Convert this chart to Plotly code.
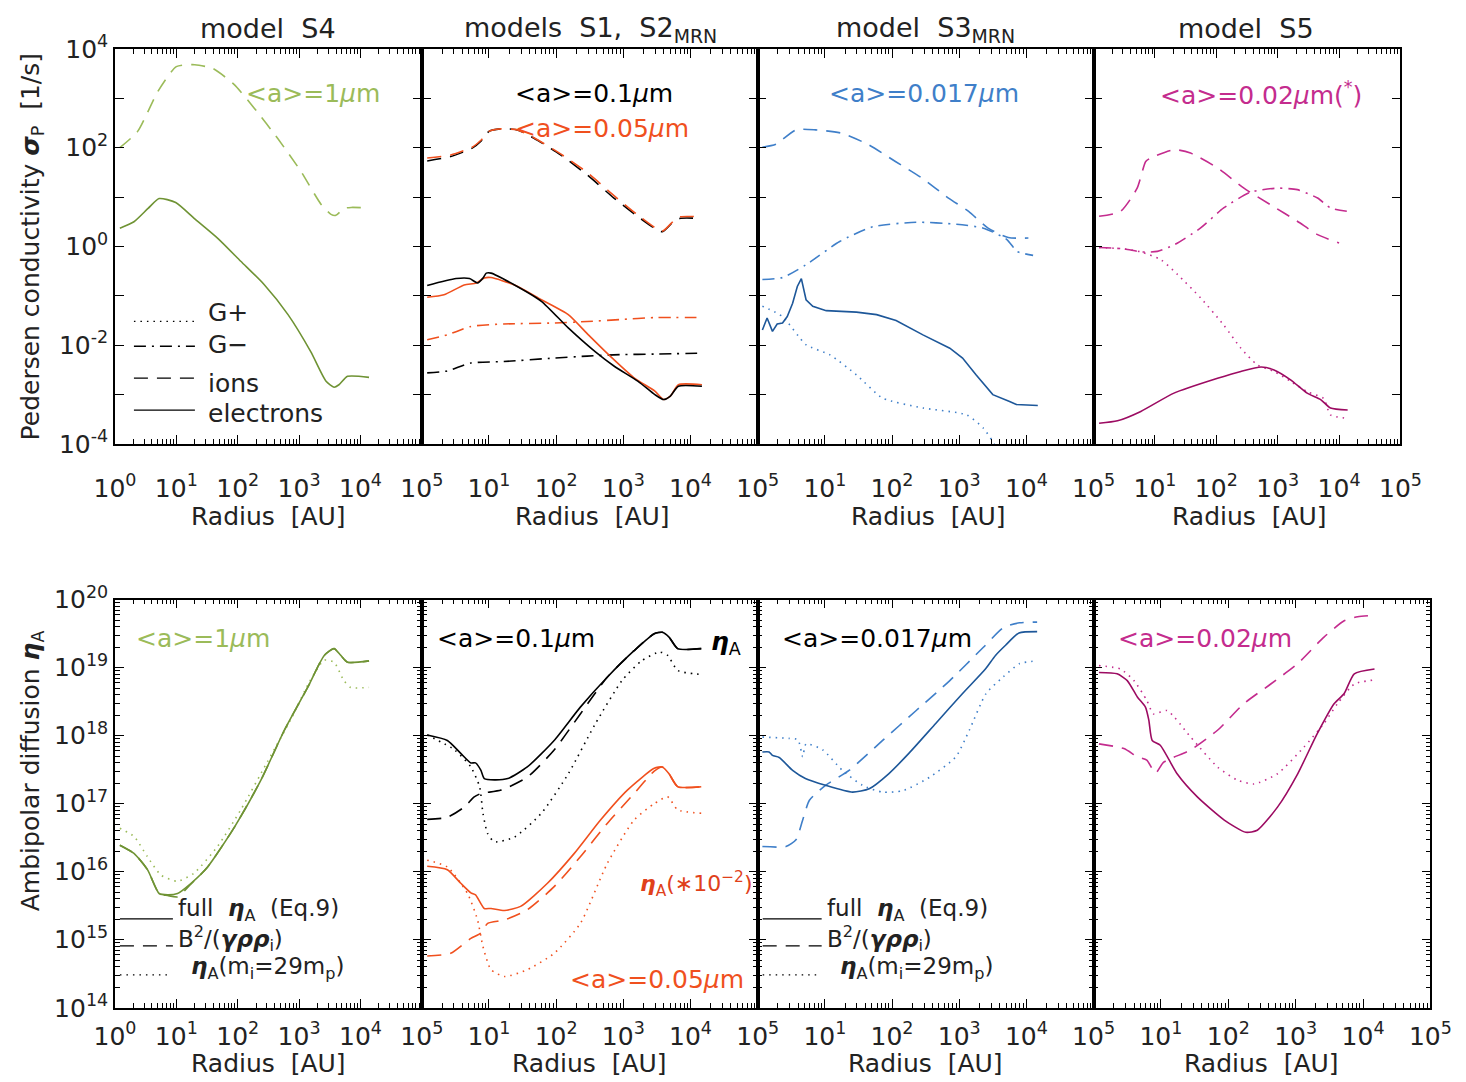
import numpy as np
import plotly.graph_objects as go

# Figure size; positions below are given as target picture pixels and converted
# to paper fractions through the measured page placement (offset + scale).
W, H = 1480, 1094
S, AX, AY = 0.972, 20.6, 16.5

# ------------------------------------------------------------------
# DATA: values, stored as log10 numbers
# r = log10(Radius [AU]);  v = log10(sigma_P [1/s]) (top) or log10(eta_A) (bottom)
# ------------------------------------------------------------------
s4_ion_r = [0.08, 0.37, 0.70, 1.00, 1.30, 1.60, 1.94, 2.27, 2.65, 3.03, 3.36, 3.52, 3.60, 3.73, 3.85, 4.14]
s4_ion_v = [2.00, 2.33, 3.14, 3.64, 3.68, 3.60, 3.28, 2.80, 2.19, 1.52, 0.85, 0.65, 0.63, 0.77, 0.79, 0.78]
s4_ele_r = [0.08, 0.31, 0.54, 0.72, 0.99, 1.29, 1.68, 2.05, 2.43, 2.82, 3.19, 3.44, 3.57, 3.65, 3.79, 4.14]
s4_ele_v = [0.37, 0.50, 0.77, 0.97, 0.89, 0.57, 0.16, -0.30, -0.77, -1.38, -2.13, -2.73, -2.85, -2.80, -2.63, -2.65]

s1_ion_r = [0.08, 0.43, 0.75, 0.88, 1.00, 1.17, 1.42, 1.67, 2.06, 2.46, 2.86, 3.25, 3.58, 3.75, 3.85, 4.15]
s1_ion_v = [1.73, 1.82, 1.99, 2.13, 2.33, 2.38, 2.36, 2.19, 1.86, 1.45, 0.98, 0.57, 0.30, 0.51, 0.57, 0.57]
s2_ion_v = [1.79, 1.85, 2.01, 2.15, 2.33, 2.38, 2.36, 2.20, 1.88, 1.50, 1.03, 0.60, 0.31, 0.52, 0.60, 0.60]
s1_ele_r = [0.08, 0.51, 0.71, 0.83, 0.91, 0.96, 1.03, 1.38, 1.78, 2.18, 2.58, 2.87, 3.22, 3.47, 3.60, 3.70, 3.82, 4.17]
s1_ele_v = [-0.79, -0.65, -0.65, -0.74, -0.64, -0.54, -0.54, -0.78, -1.11, -1.65, -2.13, -2.43, -2.73, -3.00, -3.10, -3.03, -2.83, -2.83]
s2_ele_r = [0.08, 0.33, 0.63, 0.81, 0.93, 1.03, 1.38, 1.78, 2.18, 2.48, 2.78, 3.17, 3.47, 3.60, 3.70, 3.82, 4.17]
s2_ele_v = [-1.03, -0.98, -0.78, -0.74, -0.64, -0.63, -0.78, -1.08, -1.38, -1.79, -2.19, -2.67, -2.93, -3.10, -3.03, -2.80, -2.80]
s12_gm_r = [0.08, 0.38, 0.73, 1.22, 1.97, 2.46, 2.96, 3.46, 4.17]
s2_gm_v = [-1.89, -1.79, -1.62, -1.57, -1.55, -1.52, -1.48, -1.44, -1.44]
s1_gm_v = [-2.56, -2.52, -2.36, -2.33, -2.26, -2.22, -2.19, -2.18, -2.16]

s3_ion_r = [0.07, 0.27, 0.57, 0.86, 1.26, 1.65, 2.05, 2.45, 2.84, 3.14, 3.43, 3.73, 4.03]
s3_ion_v = [2.01, 2.07, 2.36, 2.36, 2.29, 2.06, 1.72, 1.38, 0.98, 0.71, 0.37, 0.18, 0.17]
s3_gm_r = [0.07, 0.37, 0.72, 1.22, 1.72, 2.36, 2.96, 3.36, 3.71, 3.86, 4.10]
s3_gm_v = [-0.67, -0.63, -0.37, 0.10, 0.40, 0.49, 0.45, 0.37, 0.14, -0.10, -0.18]
s3_ele_r = [0.07, 0.14, 0.22, 0.29, 0.37, 0.44, 0.52, 0.59, 0.65, 0.72, 0.82, 1.02, 1.47, 1.77, 2.06, 2.46,
            2.86, 3.05, 3.25, 3.50, 3.75, 3.85, 4.17]
s3_ele_v = [-1.69, -1.45, -1.72, -1.57, -1.55, -1.42, -1.15, -0.81, -0.65, -1.08, -1.21, -1.30, -1.33, -1.38,
            -1.50, -1.79, -2.06, -2.26, -2.60, -3.00, -3.14, -3.20, -3.22]
s3_gp_r = [0.07, 0.37, 0.72, 1.07, 1.47, 1.86, 2.46, 3.11, 3.36, 3.53, 3.62]
s3_gp_v = [-1.21, -1.42, -1.99, -2.19, -2.60, -3.07, -3.27, -3.41, -3.68, -4.02, -4.30]

s5_ion_r = [0.09, 0.44, 0.71, 0.85, 0.93, 1.31, 1.58, 2.02, 2.45, 2.89, 3.32, 3.65, 4.00]
s5_ion_v = [0.61, 0.71, 1.18, 1.72, 1.79, 1.96, 1.89, 1.59, 1.18, 0.84, 0.51, 0.24, 0.07]
s5_gm_r = [0.09, 0.50, 0.77, 1.04, 1.31, 1.74, 2.12, 2.56, 2.99, 3.32, 3.65, 3.86, 4.14]
s5_gm_v = [-0.02, -0.05, -0.11, -0.10, 0.03, 0.37, 0.78, 1.10, 1.18, 1.15, 0.98, 0.78, 0.71]
s5_gp_r = [0.09, 0.50, 0.77, 1.10, 1.37, 1.75, 2.12, 2.40, 2.67, 2.94, 3.21, 3.48, 3.75, 3.86, 4.14]
s5_gp_v = [-0.02, -0.05, -0.11, -0.27, -0.57, -1.05, -1.59, -2.06, -2.40, -2.53, -2.73, -2.94, -3.08, -3.41, -3.48]
s5_ele_r = [0.09, 0.39, 0.77, 1.31, 2.02, 2.40, 2.73, 2.94, 3.21, 3.48, 3.70, 3.86, 4.14]
s5_ele_v = [-3.58, -3.53, -3.34, -2.97, -2.67, -2.53, -2.44, -2.50, -2.70, -2.97, -3.10, -3.27, -3.31]

s4_full_r = [0.08, 0.31, 0.53, 0.72, 0.86, 1.02, 1.24, 1.51, 1.95, 2.38, 2.76, 3.14, 3.41, 3.57, 3.68, 3.79, 4.14]
s4_full_v = [16.39, 16.27, 16.03, 15.68, 15.66, 15.68, 15.83, 16.07, 16.66, 17.35, 18.08, 18.71, 19.18, 19.28, 19.18, 19.08, 19.10]
s4_b2_v = [16.39, 16.27, 16.03, 15.68, 15.65, 15.63, 15.82, 16.07, 16.66, 17.35, 18.08, 18.71, 19.18, 19.28, 19.18, 19.08, 19.10]
s4_mi_r = [0.08, 0.31, 0.53, 0.75, 1.02, 1.29, 1.67, 2.05, 2.48, 2.86, 3.18, 3.41, 3.57, 3.73, 3.84, 4.14]
s4_mi_v = [16.64, 16.52, 16.22, 15.95, 15.86, 15.98, 16.37, 16.91, 17.61, 18.23, 18.81, 19.11, 19.08, 18.81, 18.71, 18.71]

s1_full_r = [0.08, 0.38, 0.58, 0.73, 0.80, 0.88, 0.93, 1.08, 1.28, 1.57, 1.97, 2.36, 2.76, 3.16, 3.46, 3.58, 3.68, 3.81, 4.16]
s1_full_v = [18.01, 17.93, 17.74, 17.60, 17.60, 17.49, 17.37, 17.35, 17.37, 17.54, 17.93, 18.42, 18.86, 19.25, 19.50, 19.52, 19.45, 19.28, 19.28]
s1_b2_r = [0.08, 0.38, 0.63, 0.78, 0.88, 1.18, 1.57, 1.97, 2.36, 2.76, 3.16, 3.46, 3.58, 3.68, 3.81, 4.16]
s1_b2_v = [16.77, 16.80, 16.95, 17.10, 17.15, 17.20, 17.39, 17.79, 18.32, 18.86, 19.25, 19.50, 19.52, 19.45, 19.28, 19.28]
s1_mi_r = [0.08, 0.49, 0.73, 0.86, 0.91, 0.98, 1.08, 1.38, 1.78, 2.18, 2.58, 2.98, 3.27, 3.54, 3.66, 3.81, 4.16]
s1_mi_v = [18.01, 17.79, 17.54, 17.25, 16.86, 16.56, 16.44, 16.51, 16.86, 17.44, 18.17, 18.81, 19.10, 19.23, 19.18, 18.96, 18.90]
s2_full_r = [0.08, 0.38, 0.58, 0.73, 0.80, 0.93, 1.03, 1.23, 1.47, 1.87, 2.27, 2.66, 3.06, 3.46, 3.58, 3.68, 3.81, 4.16]
s2_full_v = [16.08, 16.03, 15.83, 15.69, 15.66, 15.46, 15.46, 15.43, 15.49, 15.83, 16.27, 16.76, 17.20, 17.52, 17.54, 17.44, 17.25, 17.25]
s2_b2_r = [0.08, 0.43, 0.73, 0.88, 0.98, 1.23, 1.57, 1.97, 2.36, 2.76, 3.16, 3.46, 3.58, 3.68, 3.81, 4.16]
s2_b2_v = [14.76, 14.80, 15.02, 15.10, 15.24, 15.29, 15.44, 15.78, 16.22, 16.71, 17.15, 17.48, 17.54, 17.44, 17.25, 17.25]
s2_mi_r = [0.08, 0.38, 0.68, 0.83, 0.91, 1.03, 1.23, 1.57, 1.97, 2.36, 2.76, 3.16, 3.46, 3.66, 3.81, 4.16]
s2_mi_v = [16.17, 16.07, 15.68, 15.29, 14.90, 14.56, 14.46, 14.56, 14.80, 15.24, 16.12, 16.76, 17.00, 17.10, 16.91, 16.86]

s3_full_r = [0.07, 0.17, 0.22, 0.32, 0.52, 0.71, 1.01, 1.41, 1.66, 1.95, 2.25, 2.65, 3.05, 3.39, 3.54, 3.69, 3.89, 4.16]
s3_full_v = [17.76, 17.76, 17.71, 17.68, 17.49, 17.37, 17.27, 17.17, 17.22, 17.44, 17.74, 18.18, 18.62, 18.98, 19.18, 19.33, 19.51, 19.53]
s3_b2_r = [0.07, 0.42, 0.57, 0.67, 0.77, 1.01, 1.36, 1.86, 2.36, 2.86, 3.36, 3.66, 3.90, 4.16]
s3_b2_v = [16.37, 16.37, 16.47, 16.76, 17.05, 17.27, 17.49, 17.93, 18.37, 18.81, 19.30, 19.59, 19.66, 19.67]
s3_mi_r = [0.07, 0.47, 0.60, 0.67, 0.72, 0.97, 1.26, 1.56, 1.86, 2.16, 2.56, 2.95, 3.15, 3.40, 3.65, 3.90, 4.16]
s3_mi_v = [17.98, 17.96, 17.94, 17.69, 17.88, 17.79, 17.49, 17.27, 17.17, 17.19, 17.39, 17.69, 18.08, 18.62, 18.86, 19.06, 19.10]

s5_full_r = [0.08, 0.35, 0.50, 0.65, 0.77, 0.82, 0.87, 0.99, 1.24, 1.54, 1.94, 2.26, 2.43, 2.73, 3.03, 3.32, 3.57, 3.72, 3.87, 4.17]
s5_full_v = [18.93, 18.91, 18.81, 18.57, 18.42, 18.23, 17.93, 17.86, 17.44, 17.10, 16.76, 16.58, 16.61, 16.95, 17.44, 18.03, 18.47, 18.62, 18.91, 18.98]
s5_b2_r = [0.08, 0.45, 0.65, 0.79, 0.92, 1.04, 1.44, 1.84, 2.23, 2.63, 3.03, 3.42, 3.72, 3.92, 4.17]
s5_b2_v = [17.88, 17.81, 17.69, 17.64, 17.45, 17.61, 17.79, 18.08, 18.47, 18.76, 19.06, 19.45, 19.69, 19.75, 19.77]
s5_mi_r = [0.08, 0.40, 0.60, 0.79, 0.89, 1.09, 1.44, 1.84, 2.13, 2.38, 2.73, 3.12, 3.42, 3.62, 3.87, 4.17]
s5_mi_v = [19.03, 18.98, 18.81, 18.52, 18.32, 18.37, 17.98, 17.54, 17.35, 17.29, 17.44, 17.83, 18.18, 18.47, 18.76, 18.82]

decades_x = [0, 1, 2, 3, 4, 5]
decades_top = [-4, -3, -2, -1, 0, 1, 2, 3, 4]
decades_bot = [14, 15, 16, 17, 18, 19, 20]

# ------------------------------------------------------------------
GREEN_L = "#9bbb59"
GREEN_D = "#6f9334"
BLACK = "#000000"
RED = "#f0501e"
BLUE_L = "#3f7fc9"
BLUE_D = "#1d5799"
MAG_L = "#c42c8e"
MAG_D = "#9c0b62"
TXT = "#222222"
FONT = "DejaVu Sans"

DASH = "14px,9px"
DOT = "1.5px,5px"
DASHDOT = "12px,6px,2px,6px"

fig = go.Figure()


def tr(ax, r, v, color, dash="solid", width=1.6, smooth=True):
    fig.add_trace(go.Scatter(
        x=10.0 ** np.array(r, dtype=float), y=10.0 ** np.array(v, dtype=float),
        mode="lines",
        line=dict(color=color, dash=dash, width=width,
                  shape="spline" if smooth else "linear", smoothing=0.6),
        xaxis="x" + ("" if ax == 1 else str(ax)), yaxis="y" + ("" if ax == 1 else str(ax)),
        showlegend=False, hoverinfo="skip"))


tr(1, s4_ion_r, s4_ion_v, GREEN_L, DASH)
tr(1, s4_ele_r, s4_ele_v, GREEN_D)
tr(2, s1_ion_r, s1_ion_v, BLACK, DASH)
tr(2, s1_ion_r, s2_ion_v, RED, DASH)
tr(2, s12_gm_r, s2_gm_v, RED, DASHDOT)
tr(2, s12_gm_r, s1_gm_v, BLACK, DASHDOT)
tr(2, s2_ele_r, s2_ele_v, RED)
tr(2, s1_ele_r, s1_ele_v, BLACK)
tr(3, s3_ion_r, s3_ion_v, BLUE_L, DASH)
tr(3, s3_gm_r, s3_gm_v, BLUE_L, DASHDOT)
tr(3, s3_gp_r, s3_gp_v, BLUE_L, DOT)
tr(3, s3_ele_r, s3_ele_v, BLUE_D, smooth=False)
tr(4, s5_ion_r, s5_ion_v, MAG_L, DASH)
tr(4, s5_gm_r, s5_gm_v, MAG_L, DASHDOT)
tr(4, s5_gp_r, s5_gp_v, MAG_L, DOT)
tr(4, s5_ele_r, s5_ele_v, MAG_D)

tr(5, s4_mi_r, s4_mi_v, GREEN_L, DOT)
tr(5, s4_full_r, s4_b2_v, GREEN_D, DASH)
tr(5, s4_full_r, s4_full_v, GREEN_D)
tr(6, s1_mi_r, s1_mi_v, BLACK, DOT)
tr(6, s1_b2_r, s1_b2_v, BLACK, DASH)
tr(6, s1_full_r, s1_full_v, BLACK)
tr(6, s2_mi_r, s2_mi_v, RED, DOT)
tr(6, s2_b2_r, s2_b2_v, RED, DASH)
tr(6, s2_full_r, s2_full_v, RED)
tr(7, s3_mi_r, s3_mi_v, BLUE_L, DOT)
tr(7, s3_b2_r, s3_b2_v, BLUE_L, DASH)
tr(7, s3_full_r, s3_full_v, BLUE_D)
tr(8, s5_mi_r, s5_mi_v, MAG_L, DOT)
tr(8, s5_b2_r, s5_b2_v, MAG_L, DASH)
tr(8, s5_full_r, s5_full_v, MAG_D)


# target picture pixel -> paper fraction
def px(x):
    return (x / S - AX) / W


def py(y):
    return 1 - (y / S - AY) / H


top_x = [(114, 421), (421, 757), (757, 1093), (1093, 1400)]
bot_x = [(114, 421), (421, 757), (757, 1093), (1093, 1430)]
top_y = (py(443), py(47))
bot_y = (py(1008), py(599))

tick_font = dict(family=FONT, size=25, color=TXT)
layout = {}
for i in range(8):
    n = i + 1
    col = i % 4
    top = i < 4
    xd = (top_x if top else bot_x)[col]
    xname = "xaxis" if n == 1 else "xaxis%d" % n
    yname = "yaxis" if n == 1 else "yaxis%d" % n
    xtv = [10.0 ** d for d in decades_x]
    xtt = ["10<sup>%d</sup>" % d for d in decades_x]
    if col > 0:
        xtt[0] = ""
    layout[xname] = dict(
        type="log", range=[0, 5], domain=[px(xd[0]), px(xd[1])],
        anchor="y" if n == 1 else "y%d" % n,
        showline=True, linecolor="black", linewidth=1.5, mirror="allticks",
        ticks="inside", ticklen=9, tickwidth=1.2, tickcolor="black",
        tickvals=xtv, ticktext=xtt, tickfont=tick_font, showgrid=False, zeroline=False,
        ticklabelstandoff=(21 if top else 5),
        minor=dict(ticks="inside", ticklen=5, tickwidth=1, tickcolor="black", dtick="D1", showgrid=False),
    )
    if top:
        ytv = [10.0 ** d for d in decades_top]
        ytt = [("10<sup>%d</sup>" % d if d % 2 == 0 else "") for d in decades_top]
        yrange = [-4, 4]
        yd = top_y
        yminor = None
    else:
        ytv = [10.0 ** d for d in decades_bot]
        ytt = ["10<sup>%d</sup>" % d for d in decades_bot]
        yrange = [14, 20]
        yd = bot_y
        yminor = dict(ticks="inside", ticklen=5, tickwidth=1, tickcolor="black", dtick="D1", showgrid=False)
    ya = dict(
        type="log", range=yrange, domain=[yd[0], yd[1]],
        anchor="x" if n == 1 else "x%d" % n,
        showline=True, linecolor="black", linewidth=1.5, mirror="allticks",
        ticks="inside", ticklen=9, tickwidth=1.2, tickcolor="black",
        tickvals=ytv, ticktext=ytt, tickfont=tick_font, showticklabels=(col == 0),
        showgrid=False, zeroline=False,
    )
    if yminor:
        ya["minor"] = yminor
    layout[yname] = ya

fig.update_layout(**layout)

ann = []


def text(x, y, s, color=TXT, size=25, xanchor="center", angle=0):
    ann.append(dict(x=px(x), y=py(y), xref="paper", yref="paper", text=s, showarrow=False,
                    font=dict(family=FONT, size=size, color=color), xanchor=xanchor, yanchor="middle",
                    textangle=angle))


MU = "<i>μ</i>m"
text(267, 27, "model  S4", size=27)
text(590, 28, "models  S1,  S2<sub>MRN</sub>", size=27)
text(925, 28, "model  S3<sub>MRN</sub>", size=27)
text(1246, 27, "model  S5", size=27)
for (a, b) in top_x:
    text((a + b) / 2 + (3 if a > 114 else 0), 516, "Radius  [AU]", size=25)
for (a, b) in bot_x:
    text((a + b) / 2, 1064, "Radius  [AU]", size=25)
text(31, 245, "Pedersen conductivity <b><i>σ</i></b><sub>P</sub>  [1/s]", size=25, angle=-90)
text(31, 770, "Ambipolar diffusion <b><i>η</i></b><sub>A</sub>", size=25, angle=-90)

text(243, 92, "&lt;a&gt;=1" + MU, GREEN_L, xanchor="left")
text(512, 92, "&lt;a&gt;=0.1" + MU, BLACK, xanchor="left")
text(512, 127, "&lt;a&gt;=0.05" + MU, RED, xanchor="left")
text(826, 92, "&lt;a&gt;=0.017" + MU, BLUE_L, xanchor="left")
text(1157, 92, "&lt;a&gt;=0.02" + MU + "(<sup>*</sup>)", MAG_L, xanchor="left")

leg_top = [("G+", DOT, 311, 320), ("G&#8722;", DASHDOT, 343, 345), ("ions", DASH, 382, 377), ("electrons", "solid", 412, 409)]
shapes = []
for lbl, dsh, ty, ly in leg_top:
    text(205, ty, lbl, xanchor="left")
    shapes.append(dict(type="line", xref="paper", yref="paper", x0=px(133), x1=px(194), y0=py(ly), y1=py(ly),
                       line=dict(color="black", width=1.3, dash=dsh)))

text(133, 638, "&lt;a&gt;=1" + MU, GREEN_L, xanchor="left")
text(434, 638, "&lt;a&gt;=0.1" + MU, BLACK, xanchor="left")
text(708, 642, "<b><i>η</i></b><sub>A</sub>", BLACK, xanchor="left")
text(637, 884, "<b><i>η</i></b><sub>A</sub>(∗10<sup>−2</sup>)", "#e0401a", size=22, xanchor="left")
text(567, 980, "&lt;a&gt;=0.05" + MU, RED, xanchor="left")
text(779, 638, "&lt;a&gt;=0.017" + MU, BLACK, xanchor="left")
text(1115, 638, "&lt;a&gt;=0.02" + MU, MAG_L, xanchor="left")

for (x0, x1, tx, tx3) in [(119, 172, 175, 188), (762, 821, 824, 837)]:
    text(tx, 910, "full  <b><i>η</i></b><sub>A</sub>  (Eq.9)", size=23, xanchor="left")
    text(tx, 939, "B<sup>2</sup>/(<b><i>γρρ</i></b><sub>i</sub>)", size=23, xanchor="left")
    text(tx3, 968, "<b><i>η</i></b><sub>A</sub>(m<sub>i</sub>=29m<sub>p</sub>)", size=23, xanchor="left")
    for dsh, ly in [("solid", 919), (DASH, 946), (DOT, 975)]:
        xe = x1 if dsh != DOT else x1 - 5
        shapes.append(dict(type="line", xref="paper", yref="paper", x0=px(x0), x1=px(xe), y0=py(ly), y1=py(ly),
                           line=dict(color="black", width=1.3, dash=dsh)))

fig.update_layout(
    width=W, height=H, margin=dict(l=0, r=0, t=0, b=0),
    paper_bgcolor="white", plot_bgcolor="white",
    annotations=ann, shapes=shapes, showlegend=False,
)

fig.write_html("out.html")
